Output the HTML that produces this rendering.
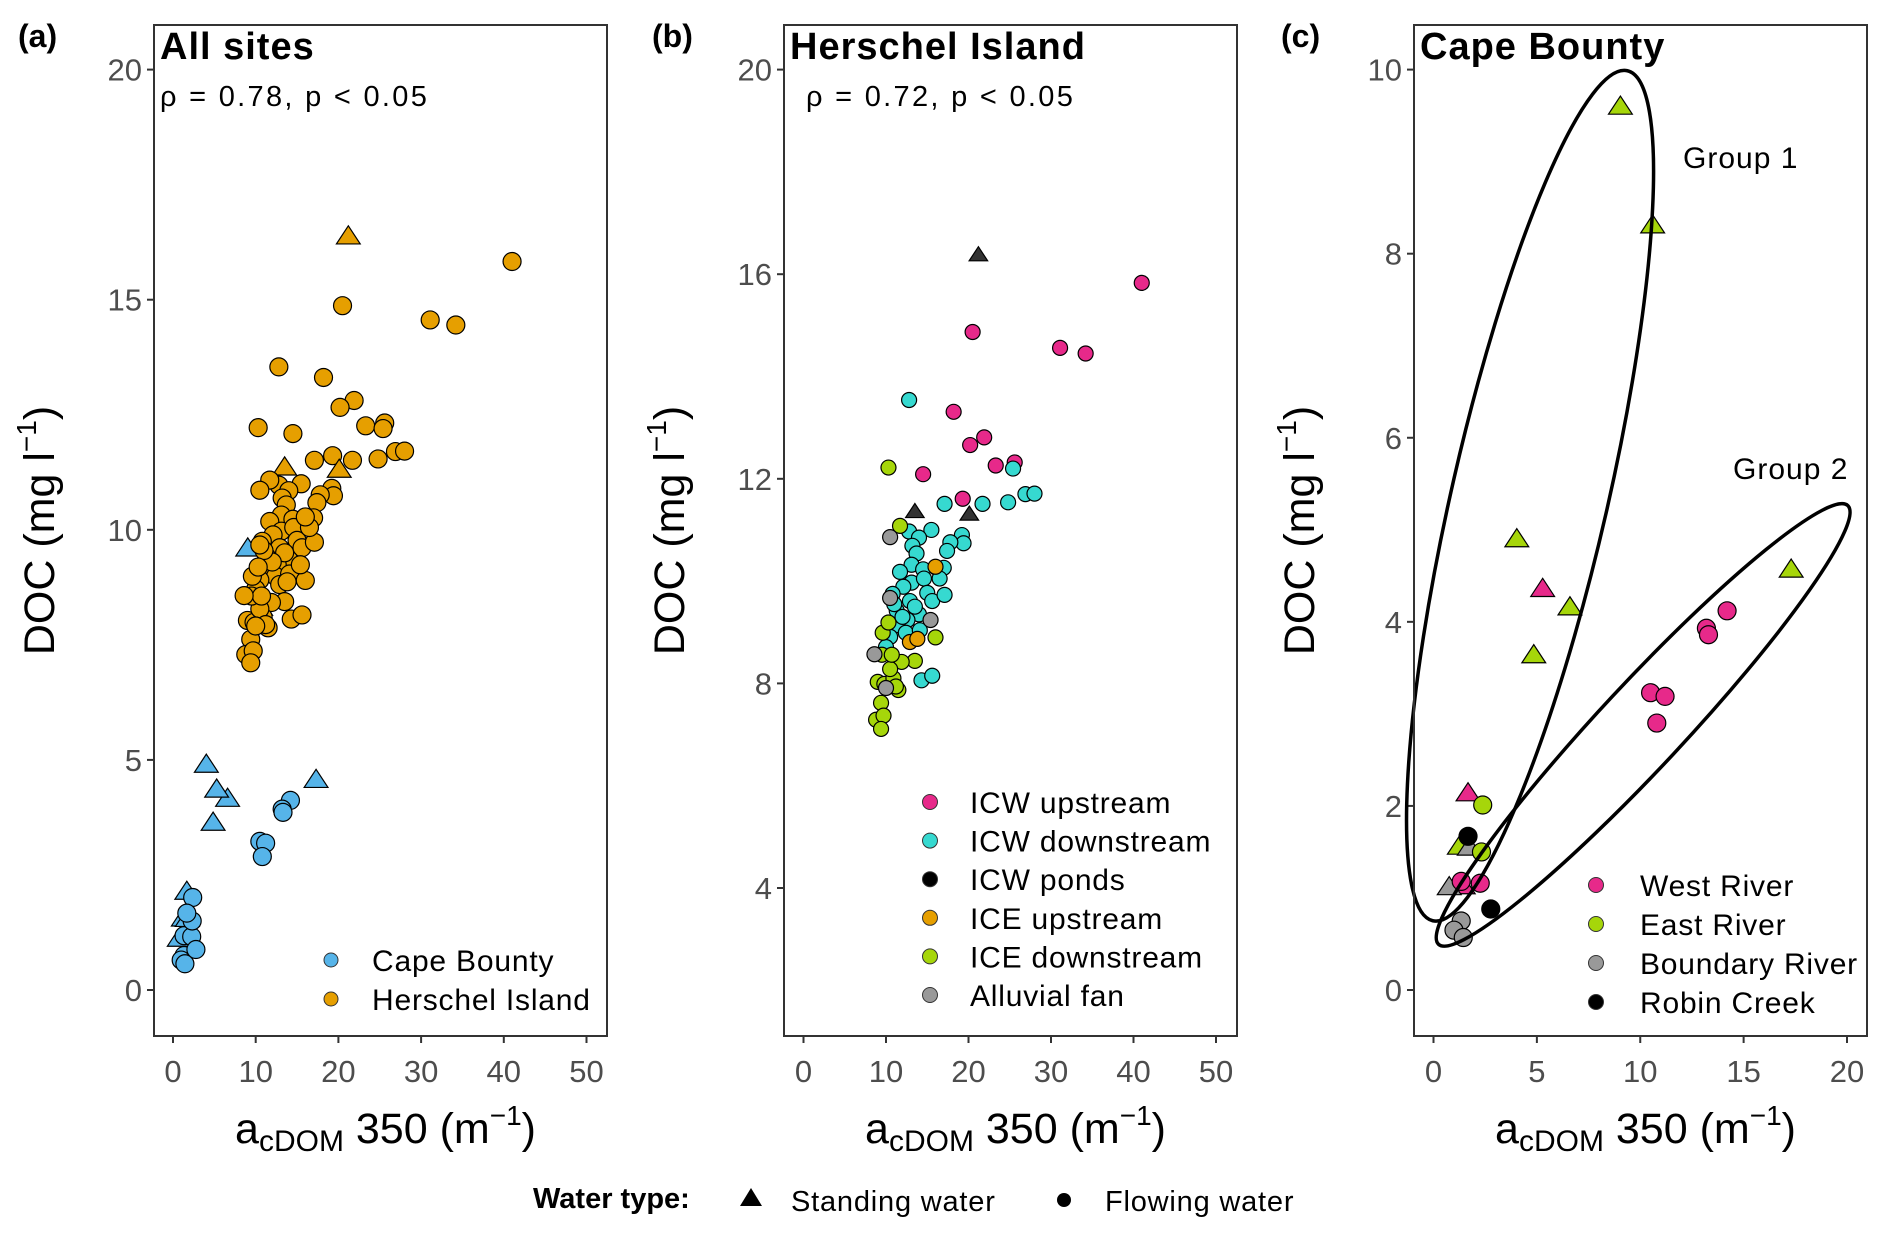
<!DOCTYPE html>
<html><head><meta charset="utf-8">
<style>
html,body{margin:0;padding:0;background:#fff;}
svg{display:block;font-family:"Liberation Sans",sans-serif;}
</style></head>
<body>
<svg id="chart" width="1883" height="1233" viewBox="0 0 1883 1233" xmlns="http://www.w3.org/2000/svg"></svg>
<script>
// ---------- DATA ----------
const hX = [41,20.5,31.1,34.2,18.2,21.9,20.2,23.3,25.6,14.5,19.3,
  21.2,13.5,20.1,
  12.8,25.4,17.1,21.7,24.8,26.9,28.0,12.8,15.5,14.0,13.2,13.7,19.2,19.4,17.8,17.4,13.1,11.7,14.5,16.1,17.0,13.1,14.6,12.1,10.8,15.0,15.6,17.1,12.9,14.0,11.3,12.6,11.4,12.4,14.1,10.5,10.0,14.3,15.6,13.5,12.0,11.0,16.5,
  16.0,12.9,13.8,
  10.3,11.7,16.0,13.5,11.9,9.6,10.3,9.0,9.8,10.9,11.5,9.4,8.8,9.7,9.4,10.5,9.5,10.7,11.2,
  10.5,8.6,10.5,15.4,10.0];
const hY = [15.83,14.87,14.56,14.45,13.31,12.81,12.66,12.26,12.32,12.09,11.61,
  16.38,11.36,11.31,
  13.54,12.2,11.51,11.51,11.54,11.70,11.71,10.97,11.0,10.85,10.69,10.54,10.9,10.74,10.76,10.59,10.32,10.18,10.23,10.26,10.26,9.97,10.05,9.89,9.75,9.77,9.61,9.73,9.61,9.35,9.42,9.24,9.14,8.99,9.04,8.91,8.71,8.06,8.15,9.50,9.30,9.55,10.05,
  10.28,8.81,8.87,
  12.22,11.08,8.9,8.44,8.42,8.99,9.19,8.03,7.99,8.1,7.87,7.62,7.29,7.37,7.11,8.28,8.56,8.56,7.94,
  10.86,8.57,9.67,9.24,7.91];
const hCat = ['up','up','up','up','up','up','up','up','up','up','up',
  'pond','pond','pond',
  'down','down','down','down','down','down','down','down','down','down','down','down','down','down','down','down','down','down','down','down','down','down','down','down','down','down','down','down','down','down','down','down','down','down','down','down','down','down','down','down','down','down','down',
  'iceup','iceup','iceup',
  'icedown','icedown','icedown','icedown','icedown','icedown','icedown','icedown','icedown','icedown','icedown','icedown','icedown','icedown','icedown','icedown','icedown','icedown','icedown',
  'fan','fan','fan','fan','fan'];
const hShape = hCat.map(c => c === 'pond' ? 't' : 'c');

const cX = [9.04,10.6,4.03,4.85,6.6,17.3,1.25,
  5.28,1.67,1.44,
  0.76,1.73,
  14.2,13.2,13.3,10.5,11.2,10.8,1.34,2.26,
  2.38,2.32,
  1.34,0.99,1.44,
  1.67,2.77];
const cY = [9.6,8.31,4.9,3.64,4.16,4.57,1.56,
  4.36,2.14,1.13,
  1.12,1.55,
  4.12,3.93,3.86,3.23,3.19,2.9,1.18,1.16,
  2.01,1.5,
  0.75,0.65,0.57,
  1.67,0.88];
const cCat = ['east','east','east','east','east','east','east',
  'west','west','west',
  'bound','bound',
  'west','west','west','west','west','west','west','west',
  'east','east',
  'bound','bound','bound',
  'robin','robin'];
const cShape = ['t','t','t','t','t','t','t','t','t','t','t','t',
  'c','c','c','c','c','c','c','c','c','c','c','c','c','c','c'];

const xTicksAB = [0,10,20,30,40,50];
const yTicksA = [0,5,10,15,20];
const yTicksB = [4,8,12,16,20];
const xTicksC = [0,5,10,15,20];
const yTicksC = [0,2,4,6,8,10];
const legendA = ['Cape Bounty','Herschel Island'];
const legendB = ['ICW upstream','ICW downstream','ICW ponds','ICE upstream','ICE downstream','Alluvial fan'];
const legendBKeys = ['up','down','pond','iceup','icedown','fan'];
const legendC = ['West River','East River','Boundary River','Robin Creek'];
const legendCKeys = ['west','east','bound','robin'];

// ---------- STYLE ----------
const colH = {up:'#E7298A',down:'#36D9D0',pond:'#000000',iceup:'#E69F00',icedown:'#A6D60A',fan:'#999999'};
const colC = {west:'#E7298A',east:'#A6D60A',bound:'#999999',robin:'#000000'};
const NS='http://www.w3.org/2000/svg';
const svg=document.getElementById('chart');
function mk(tag,attrs,parent){const e=document.createElementNS(NS,tag);for(const k in attrs)e.setAttribute(k,attrs[k]);(parent||svg).appendChild(e);return e;}
function lin(d0,d1,r0,r1){return v=>r0+(v-d0)*(r1-r0)/(d1-d0);}

const panelTop=25, panelBot=1036;
const panels=[
 {id:'a',L:154,R:607,x:lin(0,50,173,586.5),y:lin(0,20,990,69.6),xt:xTicksAB,yt:yTicksA,lab:'(a)',labX:18,title:'All sites',rho:'ρ = 0.78,  p < 0.05',rhoX:160},
 {id:'b',L:784,R:1237,x:lin(0,50,803.5,1216),y:lin(4,20,888,69.6),xt:xTicksAB,yt:yTicksB,lab:'(b)',labX:652,title:'Herschel Island',rho:'ρ = 0.72,  p < 0.05',rhoX:806},
 {id:'c',L:1414,R:1867,x:lin(0,20,1433.5,1847),y:lin(0,10,990,69.6),xt:xTicksC,yt:yTicksC,lab:'(c)',labX:1281,title:'Cape Bounty',rho:null}
];

function marker(g,shape,px,py,r,fill,name){
  let e;
  if(shape==='t'){
    const h=r*1.15;
    e=mk('polygon',{points:`${px},${py-h} ${px+h*1.15},${py+h*0.75} ${px-h*1.15},${py+h*0.75}`,fill:fill,stroke:'#000','stroke-width':1.2},g);
  } else {
    e=mk('circle',{cx:px,cy:py,r:r,fill:fill,stroke:'#000','stroke-width':1.2},g);
  }
  
  
  return e;
}

panels.forEach(p=>{
  const g=mk('g',{});
  
  
  p.yt.forEach(v=>{
    const yy=p.y(v);
    const t=mk('line',{x1:p.L-7,x2:p.L,y1:yy,y2:yy,stroke:'#333','stroke-width':2},g);
    
    
    const tx=mk('text',{x:p.L-12,y:yy+11,'text-anchor':'end','font-size':31,fill:'#4d4d4d'},g);
    tx.textContent=v;
    
    
  });
  p.xt.forEach(v=>{
    const xx=p.x(v);
    const t=mk('line',{x1:xx,x2:xx,y1:panelBot,y2:panelBot+7,stroke:'#333','stroke-width':2},g);
    
    
    const tx=mk('text',{x:xx,y:1082,'text-anchor':'middle','font-size':31,fill:'#4d4d4d'},g);
    tx.textContent=v;
    
    
  });
  const cx=(p.L+p.R)/2+5;
  const xt=mk('text',{x:cx,y:1143,'text-anchor':'middle','font-size':43,fill:'#000'},g);
  xt.innerHTML='a<tspan font-size="30" dy="8">cDOM</tspan><tspan dy="-8"> 350 (m</tspan><tspan font-size="28" dy="-18">−1</tspan><tspan dy="18">)</tspan>';
  
  
  const yx=p.L-100, yy=(panelTop+panelBot)/2;
  const yt=mk('text',{x:yx,y:yy,'text-anchor':'middle','font-size':43,fill:'#000',transform:`rotate(-90 ${yx} ${yy})`},g);
  yt.innerHTML='DOC (mg l<tspan font-size="28" dy="-18">−1</tspan><tspan dy="18">)</tspan>';
  
  
  const pl=mk('text',{x:p.labX,y:47,'font-size':32,'font-weight':'bold',fill:'#000'},g);
  pl.textContent=p.lab;
  
  
  p.g=g;
});

// Panel a
const pa=panels[0];
const gA=mk('g',{});


cX.forEach((v,i)=>{ marker(gA,cShape[i],pa.x(v),pa.y(cY[i]),9,'#56B4E9','point-cape-bounty'); });
hX.forEach((v,i)=>{ marker(gA,hShape[i],pa.x(v),pa.y(hY[i]),9,'#E69F00','point-herschel'); });

// Panel b
const pb=panels[1];
const gB=mk('g',{});


hX.forEach((v,i)=>{
  const s=hShape[i];
  marker(gB,s,pb.x(v),pb.y(hY[i]),s==='t'?7:7.5,s==='t'?'#333':colH[hCat[i]],'point-'+hCat[i]);
});

// Panel c
const pc=panels[2];
const gC=mk('g',{});


cX.forEach((v,i)=>{ marker(gC,cShape[i],pc.x(v),pc.y(cY[i]),9,colC[cCat[i]],'point-'+cCat[i]); });
const e1=mk('ellipse',{cx:pc.x(4.67),cy:pc.y(5.37),rx:78,ry:436,fill:'none',stroke:'#000','stroke-width':3.5,transform:`rotate(12.9 ${pc.x(4.67)} ${pc.y(5.37)})`});


const e2=mk('ellipse',{cx:pc.x(10.14),cy:pc.y(2.88),rx:300,ry:42,fill:'none',stroke:'#000','stroke-width':3.5,transform:`rotate(-47 ${pc.x(10.14)} ${pc.y(2.88)})`});


[['Group 1',1683,168],['Group 2',1733,479]].forEach(a=>{
  const t=mk('text',{x:a[1],y:a[2],'text-anchor':'start','font-size':30,fill:'#000','letter-spacing':1},);
  t.textContent=a[0];
  
  
});

panels.forEach(p=>{
  const r=mk('rect',{x:p.L,y:panelTop,width:p.R-p.L,height:panelBot-panelTop,fill:'none',stroke:'#333','stroke-width':2});
  
  
  const t=mk('text',{x:p.L+6,y:59,'font-size':38,'font-weight':'bold',fill:'#000','letter-spacing':1},);
  t.textContent=p.title;
  
  
  if(p.rho){
    const r2=mk('text',{x:p.rhoX,y:106,'font-size':29,fill:'#000','letter-spacing':2.3});
    r2.textContent=p.rho;
    
    
  }
});

function legend(items,colors,cxp,tx,y0,dy,r,name){
  items.forEach((lab,i)=>{
    const yy=y0+i*dy;
    const c=mk('circle',{cx:cxp,cy:yy,r:r,fill:colors[i],stroke:'#333','stroke-width':1});
    
    
    const t=mk('text',{x:tx,y:yy+11,'font-size':30,fill:'#000','letter-spacing':0.8});
    t.textContent=lab;
    
    
  });
}
legend(legendA,['#56B4E9','#E69F00'],331,372,960,39,7,'legend-a');
legend(legendB,legendBKeys.map(k=>colH[k]),930,970,802,38.6,7.5,'legend-b');
legend(legendC,legendCKeys.map(k=>colC[k]),1596,1640,885,39,7.5,'legend-c');

const wt=mk('text',{x:533,y:1208,'font-size':29,'font-weight':'bold',fill:'#000'});
wt.textContent='Water type:';


const tri=mk('polygon',{points:'751,1188 762,1206 740,1206',fill:'#000'});


const st=mk('text',{x:791,y:1211,'font-size':29,fill:'#000','letter-spacing':0.8});
st.textContent='Standing water';


const cir=mk('circle',{cx:1064,cy:1200,r:7,fill:'#000'});


const fl=mk('text',{x:1105,y:1211,'font-size':29,fill:'#000','letter-spacing':0.8});
fl.textContent='Flowing water';


</script>
</body></html>
